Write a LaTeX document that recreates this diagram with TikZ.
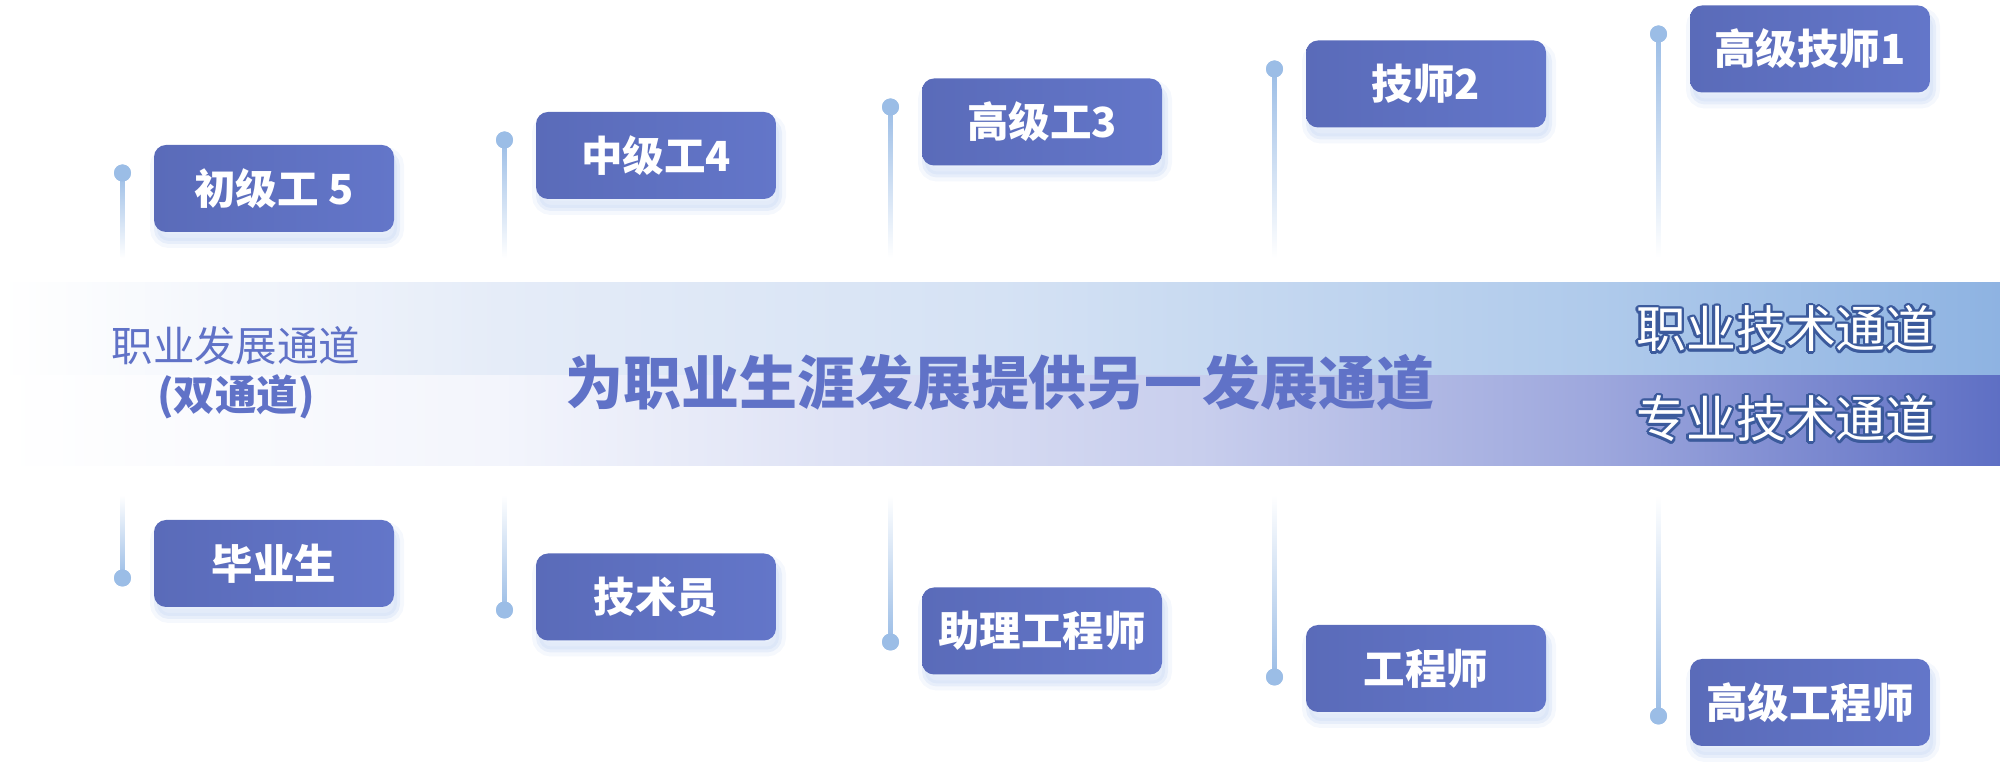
\documentclass[tikz,border=0pt]{standalone}
\usepackage{fontspec}
\usepackage{xcolor}
\usepackage{tikz}
\usepackage[copies]{contour}
\usetikzlibrary{positioning,calc}
\newfontfamily\cjk{Noto Sans CJK SC}
\definecolor{boxleft}{HTML}{5A6BB9}
\definecolor{boxright}{HTML}{6376C9}
\definecolor{stem}{HTML}{9BBDE6}
\definecolor{headline}{HTML}{6072C7}
\definecolor{rim}{HTML}{3B5A9C}
\definecolor{glow}{HTML}{D6E2F7}
\definecolor{upA}{HTML}{E5ECF8}
\definecolor{upB}{HTML}{D5E2F4}
\definecolor{upC}{HTML}{AFCAEB}
\definecolor{upD}{HTML}{8EB3E2}
\definecolor{loA}{HTML}{F3F5FC}
\definecolor{loB}{HTML}{C8CEED}
\definecolor{loC}{HTML}{9DA7DD}
\definecolor{loD}{HTML}{5E6FC4}
\pgfdeclarehorizontalshading{upband}{100bp}{color(0bp)=(white); color(25bp)=(white);
  color(37.5bp)=(upA); color(50bp)=(upB); color(65bp)=(upC); color(75bp)=(upD); color(100bp)=(upD)}
\pgfdeclarehorizontalshading{loband}{100bp}{color(0bp)=(white); color(25bp)=(white);
  color(37.5bp)=(loA); color(55bp)=(loB); color(65bp)=(loC); color(75bp)=(loD); color(100bp)=(loD)}
\contourlength{0.7pt}

\begin{document}
\begin{tikzpicture}[x=0.1mm,y=-0.1mm,
  tier/.style={rounded corners=1.2mm,left color=boxleft,right color=boxright,
               minimum width=24mm,minimum height=8.7mm,inner sep=0pt,text=white,
               font=\cjk\bfseries\fontsize{11.8pt}{14pt}\selectfont,
               preaction={draw=glow,fill=glow,line width=1.4mm,opacity=0.25,transform canvas={xshift=0.3mm,yshift=-0.9mm}},
               preaction={draw=glow,fill=glow,line width=0.6mm,opacity=0.45,transform canvas={xshift=0.3mm,yshift=-0.9mm}}},
  knob/.style={circle,fill=stem,inner sep=0pt,minimum size=1.7mm},
  stemdown/.style={top color=stem,bottom color=white},
  stemup/.style={top color=white,bottom color=stem},
  rimtext/.style={text=white,font=\cjk\fontsize{14.2pt}{16pt}\selectfont}]
\useasboundingbox (0,0) rectangle (2000,762);

% band
\shade[shading=upband] (0,283) rectangle (2000,376);
\shade[shading=loband] (0,376) rectangle (2000,466);

% stems above the band
\node[knob] (k5) at (122.5,173) {};
\node[knob] (k4) at (504.5,140) {};
\node[knob] (k3) at (890.5,107) {};
\node[knob] (k2) at (1274.5,69) {};
\node[knob] (k1) at (1658.5,34) {};
\foreach \k in {k5,k4,k3,k2,k1}
  \shade[stemdown] ($(\k)+(-2,0)$) rectangle ($(\k.center|-0,258)+(2,0)$);
\foreach \k in {k5,k4,k3,k2,k1}
  \node[knob] at (\k) {};

% stems below the band
\node[knob] (g1) at (122.5,578) {};
\node[knob] (g2) at (504.5,610) {};
\node[knob] (g3) at (890.5,642) {};
\node[knob] (g4) at (1274.5,677) {};
\node[knob] (g5) at (1658.5,716) {};
\foreach \k in {g1,g2,g3,g4,g5}
  \shade[stemup] ($(\k.center|-0,495)+(-2,0)$) rectangle ($(\k)+(2,0)$);
\foreach \k in {g1,g2,g3,g4,g5}
  \node[knob] at (\k) {};

% skilled-worker track
\node[tier] (c5) at (274,188.5) {初级工 5};
\node[tier] (c4) at (656,155.5) {中级工4};
\node[tier] (c3) at (1042,122) {高级工3};
\node[tier] (c2) at (1426,84) {技师2};
\node[tier] (c1) at (1810,49) {高级技师1};

% engineering track
\node[tier] (e1) at (274,563.5) {毕业生};
\node[tier] (e2) at (656,597) {技术员};
\node[tier] (e3) at (1042,631) {助理工程师};
\node[tier] (e4) at (1426,668.5) {工程师};
\node[tier] (e5) at (1810,702.5) {高级工程师};

% labels on the band
\node[text=headline,align=center,font=\cjk\fontsize{11.8pt}{14pt}\selectfont] (dual) at (236,372.5)
  {职业发展通道\\\textbf{(双通道)}};
\node[text=headline,font=\cjk\bfseries\fontsize{16.5pt}{18pt}\selectfont] (motto) at (1000,383)
  {为职业生涯发展提供另一发展通道};
\node[rimtext] (skill) at (1786,330) {\contour{rim}{职业技术通道}};
\node[rimtext] (prof) at (1786,420) {\contour{rim}{专业技术通道}};
\end{tikzpicture}
\end{document}
